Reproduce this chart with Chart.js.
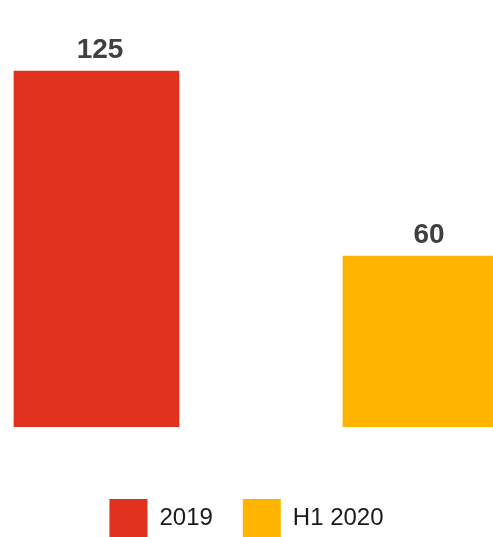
<!DOCTYPE html>
<html>
<head>
<meta charset="utf-8">
<script src="https://cdn.jsdelivr.net/npm/chart.js@4/dist/chart.umd.min.js"></script>
<style>
  html, body { margin: 0; padding: 0; background: #ffffff; overflow: hidden; }
  #wrap { position: relative; width: 493px; height: 547px; }
</style>
</head>
<body>
<div id="wrap"><canvas id="c"></canvas></div>
<script>
// ---- data ----
const categories = ['2019', 'H1 2020'];
const values = [125, 60];
const colors = ['#E0321F', '#FFB400'];
const yTicks = [0, 150];

const datasets = categories.map((cat, i) => ({
  label: cat,
  data: [{ x: i, y: values[i] }],
  backgroundColor: colors[i],
  borderWidth: 0,
  grouped: false,
  barThickness: 165
}));

const valueLabels = {
  id: 'valueLabels',
  afterDatasetsDraw(chart) {
    const ctx = chart.ctx;
    ctx.save();
    ctx.font = 'bold 28px "Liberation Sans", Arial, sans-serif';
    ctx.fillStyle = '#404040';
    ctx.textAlign = 'center';
    ctx.textBaseline = 'alphabetic';
    chart.data.datasets.forEach((ds, di) => {
      const meta = chart.getDatasetMeta(di);
      meta.data.forEach((bar, j) => {
        const v = ds.data[j].y;
        ctx.fillText(String(v), bar.x + 3.5, bar.y - 13.5);
      });
    });
    ctx.restore();
  }
};

new Chart(document.getElementById('c'), {
  type: 'bar',
  data: { datasets },
  options: {
    responsive: true,
    maintainAspectRatio: false,
    animation: false,
    layout: { padding: 0 },
    scales: {
      x: {
        type: 'linear',
        min: -0.2933,
        max: 1.2052,
        offset: false,
        display: true,
        grid: { display: false, offset: false },
        border: { display: false },
        ticks: { display: false },
        afterFit: (s) => { s.height = 42; }
      },
      y: {
        min: yTicks[0],
        max: yTicks[1],
        display: false
      }
    },
    plugins: {
      tooltip: { enabled: false },
      legend: {
        position: 'bottom',
        labels: {
          boxWidth: 38,
          boxHeight: 38,
          padding: 30,
          color: '#1a1a1a',
          font: { family: '"Liberation Sans", Arial, sans-serif', size: 24 }
        }
      }
    }
  },
  plugins: [valueLabels]
});
</script>
</body>
</html>
